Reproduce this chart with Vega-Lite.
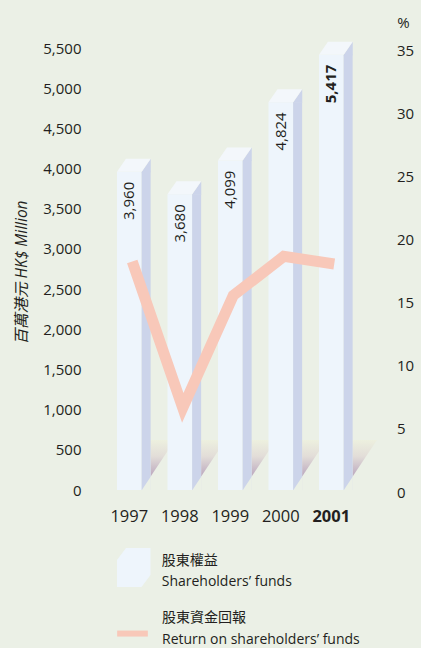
{
  "$schema": "https://vega.github.io/schema/vega-lite/v6.json",
  "width": 252.5,
  "height": 442,
  "autosize": "none",
  "padding": {"left": 104, "top": 48, "right": 64.5, "bottom": 158},
  "background": "#ebf0e6",
  "config": {
    "view": {"stroke": null},
    "font": "Open Sans",
    "axis": {"labelFont": "Open Sans", "titleFont": "Open Sans, Noto Sans CJK TC", "labelColor": "#231f20", "titleColor": "#231f20", "domain": false, "ticks": false, "grid": false},
    "legend": {"padding": 0, "labelFont": "Open Sans, Noto Sans CJK TC", "labelColor": "#231f20"}
  },
  "data": {
    "values": [
      {"year": "1997", "funds": 3960, "roe": 18.1},
      {"year": "1998", "funds": 3680, "roe": 6.5},
      {"year": "1999", "funds": 4099, "roe": 15.4},
      {"year": "2000", "funds": 4824, "roe": 18.5},
      {"year": "2001", "funds": 5417, "roe": 17.9}
    ]
  },
  "encoding": {
    "x": {
      "field": "year",
      "type": "nominal",
      "scale": {"paddingInner": 0, "paddingOuter": 0},
      "axis": {
        "title": null,
        "labelAngle": 0,
        "labelFontSize": 16.5,
        "labelPadding": 18,
        "labelFontWeight": {"condition": {"test": "datum.value === '2001'", "value": "bold"}, "value": "normal"}
      }
    }
  },
  "layer": [
    {
      "encoding": {
        "y": {
          "field": "funds",
          "type": "quantitative",
          "scale": {"domain": [0, 5500], "nice": false},
          "axis": {
            "values": [0, 500, 1000, 1500, 2000, 2500, 3000, 3500, 4000, 4500, 5000, 5500],
            "format": ",.0f",
            "labelFontSize": 15,
            "labelPadding": 23,
            "title": "百萬港元 HK$ Million",
            "titleFontStyle": "italic",
            "titleFontWeight": "normal",
            "titleFontSize": 15.5,
            "titleAngle": -90,
            "titleX": -83,
            "titleY": 224,
            "titleAlign": "center",
            "titleBaseline": "middle"
          }
        }
      },
      "layer": [
        {
          "mark": {
            "type": "point",
            "shape": "M 21.4 -13.5 L 21.4 -50 L 45.7 -50 Z",
            "size": 4,
            "filled": true,
            "opacity": 1,
            "strokeWidth": 0,
            "fill": {"gradient": "linear", "x1": 0, "y1": 0, "x2": 0, "y2": 1, "stops": [{"offset": 0, "color": "#edf0df"}, {"offset": 0.45, "color": "#e2ddd8"}, {"offset": 1, "color": "#bba7be"}]}
          },
          "encoding": {
            "y": {"datum": 0, "type": "quantitative"}
          }
        },
        {
          "mark": {"type": "bar", "width": 24.5, "color": "#eef5fc"},
          "encoding": {
            "fill": {
              "datum": "funds",
              "scale": {"range": ["#eef5fc"]},
              "legend": {
                "orient": "none",
                "legendX": 10.5,
                "legendY": 500,
                "title": null,
                "labelExpr": "['股東權益', 'Shareholders’ funds']",
                "symbolType": "M -0.872 -0.385 L -0.41 -1 L 0.846 -1 L 0.846 0.385 L 0.385 1 L -0.872 1 Z",
                "symbolSize": 1521,
                "labelOffset": 8.2,
                "labelFontSize": 14,
                "labelLimit": 320,
                "encode": {
                  "symbols": {"update": {"fill": {"value": {"gradient": "linear", "x1": 0, "y1": 0, "x2": 1, "y2": 0, "stops": [{"offset": 0, "color": "#eef5fc"}, {"offset": 0.731, "color": "#eef5fc"}, {"offset": 0.731, "color": "#ccd4ea"}, {"offset": 1, "color": "#ccd4ea"}]}}, "strokeWidth": {"value": 0}, "opacity": {"value": 1}}},
                  "labels": {"update": {"lineHeight": {"value": 21}, "dy": {"value": -7}}}
                }
              }
            }
          }
        },
        {
          "mark": {"type": "bar", "width": 9, "xOffset": 16.9, "color": "#ccd4ea"}
        },
        {
          "mark": {"type": "point", "shape": "M 12.2 0.5 L 21.5 -13 L 21.5 0.5 Z", "size": 4, "filled": true, "opacity": 1, "strokeWidth": 0, "color": "#ccd4ea"}
        },
        {
          "mark": {"type": "point", "shape": "M 12.3 0.6 L 21.6 0.6 L 21.6 -13.5 Z", "size": 4, "filled": true, "opacity": 1, "strokeWidth": 0, "color": "#ebf0e6"},
          "encoding": {
            "y": {"datum": 0, "type": "quantitative"}
          }
        },
        {
          "mark": {"type": "point", "shape": "M -12.3 0 L 12.4 0 L 21.4 -13 L -3.3 -13 Z", "size": 4, "filled": true, "opacity": 1, "strokeWidth": 0, "color": "#f3f7fb"}
        },
        {
          "transform": [{"filter": "datum.year !== '2001'"}],
          "mark": {"type": "text", "angle": 270, "align": "right", "baseline": "middle", "dx": -10, "fontSize": 15, "color": "#231f20"},
          "encoding": {
            "text": {"field": "funds", "type": "quantitative", "format": ",.0f"}
          }
        },
        {
          "transform": [{"filter": "datum.year === '2001'"}],
          "mark": {"type": "text", "angle": 270, "align": "right", "baseline": "middle", "dx": -10, "fontSize": 15, "fontWeight": "bold", "color": "#231f20"},
          "encoding": {
            "text": {"field": "funds", "type": "quantitative", "format": ",.0f"}
          }
        }
      ]
    },
    {
      "mark": {"type": "line", "strokeWidth": 11, "strokeCap": "butt", "strokeJoin": "miter", "xOffset": 3},
      "encoding": {
        "y": {
          "field": "roe",
          "type": "quantitative",
          "scale": {"domain": [0, 35], "nice": false},
          "axis": {
            "orient": "right",
            "values": [0, 5, 10, 15, 20, 25, 30, 35],
            "labelFontSize": 15,
            "labelPadding": 40,
            "labelOffset": 2,
            "title": "%",
            "titleAngle": 0,
            "titleX": 46.5,
            "titleY": -26,
            "titleAlign": "center",
            "titleBaseline": "middle",
            "titleFontWeight": "normal",
            "titleFontSize": 15
          }
        },
        "stroke": {
          "datum": "roe",
          "scale": {"range": ["#f8c8b9"]},
          "legend": {
            "orient": "none",
            "legendX": 13,
            "legendY": 566,
            "title": null,
            "labelExpr": "['股東資金回報', 'Return on shareholders’ funds']",
            "symbolType": "M -1 0.07 L 1 0.07 L 1 0.46 L -1 0.46 Z",
            "symbolSize": 942,
            "labelOffset": 14,
            "labelFontSize": 14,
            "labelLimit": 320,
            "encode": {
              "symbols": {"update": {"fill": {"value": "#f8c8b9"}, "strokeWidth": {"value": 0}, "opacity": {"value": 1}}},
              "labels": {"update": {"lineHeight": {"value": 22}, "dy": {"value": -12}}}
            }
          }
        }
      }
    }
  ],
  "resolve": {"scale": {"y": "independent"}}
}
